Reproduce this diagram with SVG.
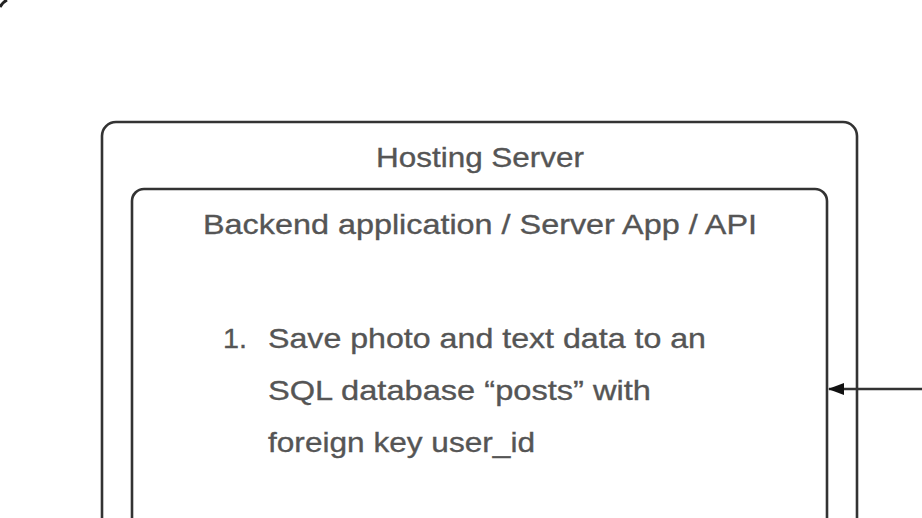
<svg xmlns="http://www.w3.org/2000/svg" width="922" height="518" viewBox="0 0 922 518">
<defs>
<style>
.box{fill:#ffffff;stroke:#333333;stroke-width:2.6}
.t{font-family:"Liberation Sans",Arial,Helvetica,sans-serif;fill:#555555;stroke:#555555;stroke-width:0.35;font-size:28.5px}
.c{text-anchor:middle}
.conn{stroke:#333333;stroke-width:2.6;fill:none}
</style>
<marker id="ah" viewBox="0 0 16 12" refX="15" refY="6" markerWidth="16" markerHeight="12" markerUnits="userSpaceOnUse" orient="auto">
<path d="M0,0 L16,6 L0,12 Z" fill="#111111"/>
</marker>
</defs>
<rect width="922" height="518" fill="#ffffff"/>
<path d="M0,7 Q3,2 7,0" stroke="#222222" stroke-width="3" fill="none"/>
<g id="hosting-server">
<rect class="box" x="102" y="122" width="755" height="420" rx="14"/>
<text class="t c" x="480" y="167" textLength="208" lengthAdjust="spacingAndGlyphs">Hosting Server</text>
</g>
<g id="backend-app">
<rect class="box" x="132" y="189" width="695" height="360" rx="12"/>
<text class="t c" x="480" y="234" textLength="554" lengthAdjust="spacingAndGlyphs">Backend application / Server App / API</text>
<text class="t" x="223" y="348" textLength="24" lengthAdjust="spacingAndGlyphs">1.</text>
<text class="t" x="268" y="348" textLength="438" lengthAdjust="spacingAndGlyphs">Save photo and text data to an</text>
<text class="t" x="268" y="400" textLength="383" lengthAdjust="spacingAndGlyphs">SQL database “posts” with</text>
<text class="t" x="268" y="452" textLength="267" lengthAdjust="spacingAndGlyphs">foreign key user_id</text>
</g>
<g id="connectors">
<line class="conn" x1="922" y1="389" x2="829" y2="389" marker-end="url(#ah)"/>
</g>
</svg>
